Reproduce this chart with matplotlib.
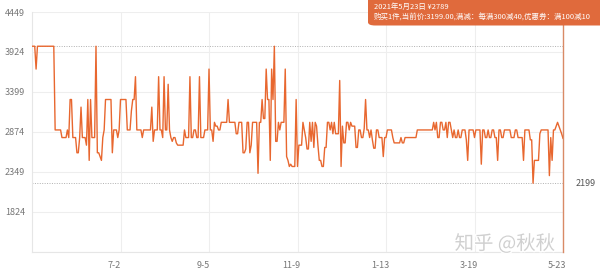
import numpy as np
import matplotlib
matplotlib.use("Agg")
import matplotlib.pyplot as plt
import matplotlib.transforms as mtransforms
from matplotlib.patches import FancyBboxPatch
import matplotlib.patheffects as pe
import datetime as dt

plt.rcParams['font.family'] = ['Noto Sans CJK SC', 'DejaVu Sans']

# ---- data ----
start_date = dt.date(2020, 4, 28)
n_days = 391
change_days = [0, 3, 4, 17, 22, 26, 27, 28, 30, 33, 35, 36, 37, 40, 41, 42, 43, 44, 47, 48,
               50, 51, 52, 53, 54, 59, 60, 63, 64, 65, 70, 73, 74, 76, 77, 81, 82, 88, 89, 90,
               93, 94, 96, 97, 98, 100, 101, 102, 103, 104, 106, 107, 112, 113, 116, 117, 119, 121, 123, 124,
               127, 130, 131, 133, 134, 135, 137, 139, 144, 145, 150, 152, 155, 157, 158, 160, 161, 162, 166, 167,
               169, 170, 172, 173, 175, 176, 177, 178, 179, 181, 182, 183, 186, 187, 188, 189, 190, 191, 194, 195,
               196, 199, 200, 201, 202, 204, 205, 206, 207, 208, 209, 210, 211, 213, 215, 217, 219, 220, 221, 222,
               223, 226, 227, 228, 229, 231, 233, 234, 235, 238, 240, 242, 244, 245, 246, 248, 249, 250, 251, 253,
               255, 258, 259, 261, 265, 266, 271, 272, 274, 283, 295, 296, 297, 298, 300, 302, 304, 305, 306, 308,
               309, 310, 311, 313, 314, 316, 319, 320, 321, 325, 326, 330, 331, 333, 335, 336, 338, 340, 342, 343,
               345, 347, 352, 355, 357, 361, 362, 366, 368, 369, 373, 374, 380, 381, 382, 383, 385, 386, 387, 388,
               389, 390]
change_prices = [3999, 3699, 3999, 2899, 2799, 2899, 2799, 3299, 2799, 2599, 2799, 3199, 2799, 2699, 3299, 2499, 3299, 2799, 3999, 2599,
                 2549, 2499, 2799, 2899, 3299, 2599, 2899, 2799, 2899, 3299, 2899, 3149, 3299, 3599, 2899, 2799, 2899, 3199, 2749, 2899,
                 3599, 2899, 2799, 3599, 2899, 3499, 2899, 2799, 2749, 2799, 2729, 2699, 2899, 2799, 3599, 2799, 2899, 2799, 3599, 2799,
                 2899, 3699, 2899, 2749, 2999, 2949, 2899, 2999, 3299, 2999, 2849, 2999, 2599, 2649, 2999, 2599, 2699, 2999, 2329, 2999,
                 3299, 3049, 3699, 3299, 2499, 3699, 3299, 3999, 2749, 2999, 2899, 2999, 3699, 2549, 2499, 2419, 2449, 2419, 3299, 2419,
                 2699, 2999, 2899, 2799, 2649, 2999, 2749, 2999, 2669, 2999, 2949, 2699, 2499, 2419, 2669, 2999, 2899, 2999, 2849, 2999,
                 2849, 3549, 2419, 2949, 2729, 2999, 2899, 2999, 2949, 2669, 2899, 2799, 2919, 3299, 2899, 2799, 2899, 2769, 2659, 2899,
                 2799, 2549, 2799, 2899, 2799, 2729, 2799, 2729, 2799, 2899, 2999, 2899, 2999, 2799, 2999, 2899, 2999, 2799, 2999, 2899,
                 2799, 2899, 2799, 2899, 2799, 2899, 2769, 2499, 2899, 2799, 2899, 2449, 2899, 2799, 2899, 2799, 2899, 2799, 2499, 2899,
                 2799, 2899, 2799, 2899, 2799, 2499, 2899, 2769, 2199, 2499, 2849, 2899, 2299, 2799, 2499, 2899, 2949, 2999, 2949, 2899,
                 2849, 2789]
y_ticks = [1299, 1824, 2349, 2874, 3399, 3924, 4449]
x_tick_dates = [dt.date(2020, 7, 2), dt.date(2020, 9, 5), dt.date(2020, 11, 9),
                dt.date(2021, 1, 13), dt.date(2021, 3, 19), dt.date(2021, 5, 23)]
x_tick_labels = ['7-2', '9-5', '11-9', '1-13', '3-19', '5-23']
max_price = 3999
min_price = 2199
tooltip_line1 = '2021年5月23日 ¥2789'
tooltip_line2 = '购买1件,当前价:3199.00,满减：每满300减40,优惠券：满100减10'
watermark = '知乎 @秋秋'

# forward-fill daily prices from change points
prices = np.empty(n_days)
for i, d in enumerate(change_days):
    end = change_days[i + 1] if i + 1 < len(change_days) else n_days
    prices[d:end] = change_prices[i]
dates = [start_date + dt.timedelta(days=i) for i in range(n_days)]

# ---- figure ----
W, H = 600, 273
fig = plt.figure(figsize=(W / 100, H / 100), dpi=100)
fig.patch.set_facecolor('white')
ax = fig.add_axes([32 / W, 21.3 / H, 531 / W, 239.7 / H])
ax.set_facecolor('white')

line_color = '#e8672f'
ax.plot(dates, prices, color=line_color, lw=1.0, zorder=3)

ax.set_xlim(dates[0], dates[-1])
ax.set_ylim(y_ticks[0], y_ticks[-1])
ax.set_yticks(y_ticks)
ax.set_yticklabels([str(v) for v in y_ticks])
ax.set_xticks(x_tick_dates)
ax.set_xticklabels(x_tick_labels)
ax.tick_params(axis='both', length=0, labelsize=6.5, colors='#777777')
ax.tick_params(axis='y', pad=5)
ax.tick_params(axis='x', pad=7)
offset = mtransforms.ScaledTranslation(-6 / 100, 0, fig.dpi_scale_trans)
for lab in ax.get_xticklabels():
    lab.set_transform(lab.get_transform() + offset)
ax.yaxis.get_major_ticks()[0].label1.set_visible(False)

ax.grid(True, color='#eeeeee', lw=0.8, zorder=0)
for s in ['top', 'right']:
    ax.spines[s].set_visible(False)
for s in ['left', 'bottom']:
    ax.spines[s].set_color('#e6e6e6')
    ax.spines[s].set_linewidth(0.8)

# mark lines for max and min
ax.axhline(max_price, color='#b0b0b0', lw=0.7, ls=(0, (1, 1.5)), zorder=2)
ax.axhline(min_price, color='#b0b0b0', lw=0.7, ls=(0, (1, 1.5)), zorder=2)
ax.annotate(str(min_price), xy=(1, min_price), xycoords=('axes fraction', 'data'),
            xytext=(9, 0), textcoords='offset points', va='center', ha='left',
            fontsize=6.5, color='#555555', annotation_clip=False)

# tooltip axis pointer
ax.axvline(dates[-1], color='#d98a66', lw=1.0, zorder=4, clip_on=False)

# tooltip box
box = FancyBboxPatch((368 / W, (H - 25.5) / H), 260 / W, 40 / H,
                     boxstyle='round,pad=0,rounding_size=0.012',
                     transform=fig.transFigure, facecolor='#e06a3c',
                     edgecolor='none', zorder=10)
fig.patches.append(box)
fig.text(374 / W, (H - 6.5) / H, tooltip_line1, color='white', fontsize=5.4,
         va='center', ha='left', zorder=11)
fig.text(374 / W, (H - 18) / H, tooltip_line2, color='white', fontsize=5.4,
         va='center', ha='left', zorder=11)

# watermark
fig.text(505 / W, (H - 244) / H, watermark, color='#d0d0d0', fontsize=14,
         va='center', ha='center', zorder=12,
         path_effects=[pe.withStroke(linewidth=2, foreground='white')])

fig.savefig('out.png', dpi=100, facecolor='white')
